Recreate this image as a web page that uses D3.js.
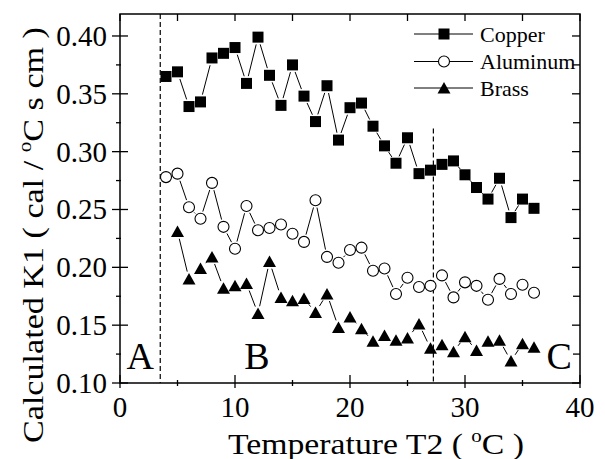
<!DOCTYPE html>
<html>
<head>
<meta charset="utf-8">
<script src="https://cdn.jsdelivr.net/npm/d3@7"></script>
<style>
  html, body { margin: 0; padding: 0; background: #fff; }
  svg { display: block; }
</style>
</head>
<body>
<svg id="chart" width="605" height="459" font-family="'Liberation Serif', Tinos, 'Times New Roman', Times, 'DejaVu Serif', serif"></svg>
<script>
// ---- data ----
const tempsCopper = [4,5,6,7,8,9,10,11,12,13,14,15,16,17,18,19,20,21,22,23,24,25,26,27,28,29,30,31,32,33,34,35,36];
const copper = [0.365,0.369,0.339,0.343,0.381,0.385,0.390,0.359,0.399,0.366,0.340,0.375,0.348,0.326,0.357,0.310,0.338,0.342,0.322,0.305,0.290,0.312,0.281,0.284,0.289,0.292,0.280,0.269,0.259,0.277,0.243,0.259,0.251];
const tempsAluminum = [4,5,6,7,8,9,10,11,12,13,14,15,16,17,18,19,20,21,22,23,24,25,26,27,28,29,30,31,32,33,34,35,36];
const aluminum = [0.278,0.281,0.252,0.242,0.273,0.235,0.216,0.253,0.232,0.234,0.237,0.229,0.222,0.258,0.209,0.204,0.215,0.217,0.197,0.199,0.177,0.191,0.183,0.184,0.193,0.174,0.187,0.184,0.172,0.190,0.177,0.185,0.178];
const tempsBrass = [5,6,7,8,9,10,11,12,13,14,15,16,17,18,19,20,21,22,23,24,25,26,27,28,29,30,31,32,33,34,35,36];
const brass = [0.231,0.190,0.199,0.209,0.182,0.184,0.186,0.160,0.205,0.174,0.171,0.173,0.161,0.177,0.148,0.157,0.147,0.136,0.141,0.137,0.139,0.151,0.130,0.133,0.127,0.140,0.128,0.136,0.137,0.119,0.134,0.131];
const seriesNames = ["Copper", "Aluminum", "Brass"];
const xTicks = [0,10,20,30,40];
const xMinorTicks = [5,15,25,35];
const yTicks = [0.10,0.15,0.20,0.25,0.30,0.35,0.40];
const yMinorTicks = [0.125,0.175,0.225,0.275,0.325,0.375];
const dashedTemps = [3.5, 27.25];
const dashedTops = [0.419, 0.320];
const regionLabels = ["A", "B", "C"];
const regionTemps = [1.75, 11.9, 38.2];

// ---- layout ----
const svg = d3.select("#chart");
const L = 120, R = 580, T = 14, B = 383;
const x = d3.scaleLinear().domain([0, 40]).range([L, R]);
const y = d3.scaleLinear().domain([0.10, 0.419]).range([B, T]);

// frame
svg.append("rect").attr("x", L).attr("y", T).attr("width", R - L).attr("height", B - T)
  .attr("fill", "none").attr("stroke", "#000").attr("stroke-width", 1.5);

// ticks
const g = svg.append("g").attr("stroke", "#000").attr("stroke-width", 1.3);
xTicks.forEach(t => {
  g.append("line").attr("x1", x(t)).attr("x2", x(t)).attr("y1", B - 8).attr("y2", B + 5);
  g.append("line").attr("x1", x(t)).attr("x2", x(t)).attr("y1", T).attr("y2", T + 7);
});
xMinorTicks.forEach(t => {
  g.append("line").attr("x1", x(t)).attr("x2", x(t)).attr("y1", B - 3).attr("y2", B + 3);
  g.append("line").attr("x1", x(t)).attr("x2", x(t)).attr("y1", T).attr("y2", T + 7);
});
yTicks.forEach(v => {
  g.append("line").attr("x1", L - 8).attr("x2", L + 8).attr("y1", y(v)).attr("y2", y(v));
  g.append("line").attr("x1", R - 8).attr("x2", R).attr("y1", y(v)).attr("y2", y(v));
});
yMinorTicks.forEach(v => {
  g.append("line").attr("x1", L - 4).attr("x2", L + 1).attr("y1", y(v)).attr("y2", y(v));
  g.append("line").attr("x1", R - 7).attr("x2", R).attr("y1", y(v)).attr("y2", y(v));
});

// tick labels
svg.append("g").selectAll("text").data(xTicks).join("text")
  .attr("x", d => x(d)).attr("y", 417).attr("text-anchor", "middle")
  .attr("font-size", 29).text(d => d);
svg.append("g").selectAll("text").data(yTicks).join("text")
  .attr("x", 107).attr("y", d => y(d) + 10).attr("text-anchor", "end")
  .attr("font-size", 29).text(d => d3.format(".2f")(d));

// axis titles
const xt = svg.append("text").attr("x", 228).attr("y", 454).attr("text-anchor", "start")
  .attr("font-size", 29).attr("textLength", 296).attr("lengthAdjust", "spacingAndGlyphs");
xt.append("tspan").text("Temperature T2 ( ");
xt.append("tspan").attr("font-size", 18).attr("dy", -12).text("o");
xt.append("tspan").attr("dy", 12).text("C )");

const yt = svg.append("text").attr("transform", "translate(42.5,443) rotate(-90)")
  .attr("text-anchor", "start").attr("font-size", 29).attr("textLength", 416).attr("lengthAdjust", "spacingAndGlyphs");
yt.append("tspan").text("Calculated K1 ( cal / ");
yt.append("tspan").attr("font-size", 18).attr("dy", -12).text("o");
yt.append("tspan").attr("dy", 12).text("C s cm )");

// dashed lines
dashedTemps.forEach((t, i) => {
  svg.append("line").attr("x1", x(t)).attr("x2", x(t)).attr("y1", y(dashedTops[i])).attr("y2", B)
    .attr("stroke", "#000").attr("stroke-width", 1.2).attr("stroke-dasharray", "5,3");
});

// region labels
svg.append("g").selectAll("text").data(regionLabels).join("text")
  .attr("x", (d, i) => x(regionTemps[i])).attr("y", 369).attr("text-anchor", "middle")
  .attr("font-size", 38).text(d => d);

// markers
function drawMarker(sel, kind) {
  if (kind === 0) {
    sel.append("rect").attr("x", -5.5).attr("y", -5.5).attr("width", 11).attr("height", 11).attr("fill", "#000");
  } else if (kind === 1) {
    sel.append("circle").attr("r", 5.5).attr("fill", "#fff").attr("stroke", "#000").attr("stroke-width", 1.1);
  } else {
    sel.append("path").attr("d", "M0,-6L6.5,5.5L-6.5,5.5Z").attr("fill", "#000");
  }
}

const allSeries = [
  { temps: tempsCopper, vals: copper },
  { temps: tempsAluminum, vals: aluminum },
  { temps: tempsBrass, vals: brass }
];
const gap = 7.5;
allSeries.forEach((s, k) => {
  const pts = s.temps.map((t, i) => [x(t), y(s.vals[i])]);
  const lg = svg.append("g").attr("stroke", "#000").attr("stroke-width", 1);
  for (let i = 0; i < pts.length - 1; i++) {
    const [x1, y1] = pts[i], [x2, y2] = pts[i + 1];
    const dx = x2 - x1, dy = y2 - y1, len = Math.hypot(dx, dy);
    if (len <= 2 * gap + 1) continue;
    const ux = dx / len, uy = dy / len;
    lg.append("line").attr("x1", x1 + ux * gap).attr("y1", y1 + uy * gap)
      .attr("x2", x2 - ux * gap).attr("y2", y2 - uy * gap);
  }
  pts.forEach(p => {
    const m = svg.append("g").attr("transform", `translate(${p[0]},${p[1]})`);
    drawMarker(m, k);
  });
});

// legend
const legendY = [34, 61.5, 88];
seriesNames.forEach((name, k) => {
  const ly = legendY[k];
  svg.append("line").attr("x1", 414).attr("x2", 473).attr("y1", ly).attr("y2", ly)
    .attr("stroke", "#000").attr("stroke-width", 1);
  const m = svg.append("g").attr("transform", `translate(444,${ly})`);
  drawMarker(m, k);
  svg.append("text").attr("x", 480).attr("y", ly + 7.5).attr("font-size", 22).text(name);
});
</script>
</body>
</html>
